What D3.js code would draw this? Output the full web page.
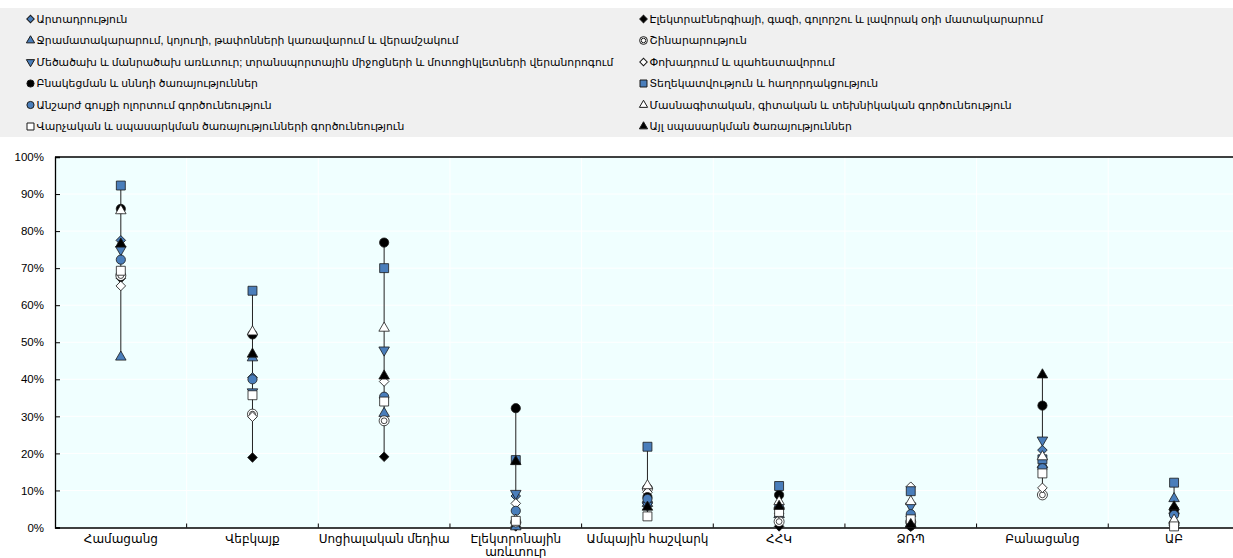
<!DOCTYPE html>
<html>
<head>
<meta charset="utf-8">
<script src="https://cdn.jsdelivr.net/npm/d3@7"></script>
<style>
  html, body { margin: 0; padding: 0; background: #fff; }
  svg { display: block; }
  text { font-family: "Liberation Sans", Arial, "DejaVu Sans", sans-serif; }
</style>
</head>
<body>
<svg id="chart" width="1233" height="558"></svg>
<script>
// ---- data ----
const categories = ["Համացանց", "Վեբկայք", "Սոցիալական մեդիա", "Էլեկտրոնային առևտուր", "Ամպային հաշվարկ", "ՀՀԿ", "ՁՌՊ", "Բանացանց", "ԱԲ"];

const seriesNames = [
  "Արտադրություն",
  "Ջրամատակարարում, կոյուղի, թափոնների կառավարում և վերամշակում",
  "Մեծածախ և մանրածախ առևտուր; տրանսպորտային միջոցների և մոտոցիկլետների վերանորոգում",
  "Բնակեցման և սննդի ծառայություններ",
  "Անշարժ գույքի ոլորտում գործունեություն",
  "Վարչական և սպասարկման ծառայությունների գործունեություն",
  "Էլեկտրաէներգիայի, գազի, գոլորշու և լավորակ օդի մատակարարում",
  "Շինարարություն",
  "Փոխադրում և պահեստավորում",
  "Տեղեկատվություն և հաղորդակցություն",
  "Մասնագիտական, գիտական և տեխնիկական գործունեություն",
  "Այլ սպասարկման ծառայություններ"
];

// values (%) per category, in the order of `categories`
const manufacturing   = [77.5, 40.5, 35.0,  8.5,  7.0,  5.0,  3.0, 20.9,  4.0];
const waterSupply     = [46.0, 45.8, 30.8,  0.2,  6.5,  3.5,  1.0, 17.0,  7.8];
const wholesale       = [75.0, 36.6, 47.9,  9.2,  6.0,  4.5,  5.8, 23.6,  3.0];
const accommodation   = [86.0, 52.1, 76.9, 32.2,  8.2,  8.8,  0.5, 32.9,  4.8];
const realEstate      = [72.3, 40.0, 35.3,  4.5,  7.7,  5.5,  3.6, 16.0,  3.4];
const administrative  = [69.3, 35.7, 34.0,  1.8,  3.0,  4.2,  2.2, 14.6,  0.3];
const electricity     = [67.3, 18.9, 19.1,  0.3,  6.5,  0.3,  0.2,  9.0,  0.5];
const construction    = [68.0, 30.6, 28.8,  1.5, 10.5,  1.6,  1.5,  8.8,  1.0];
const transportation  = [65.2, 29.9, 39.4,  6.5,  9.5,  3.8, 11.0, 10.7,  1.5];
const information     = [92.3, 63.9, 70.0, 18.2, 21.8, 11.2,  9.8, 18.4, 12.1];
const professional    = [85.5, 52.8, 53.8,  2.0, 11.3,  7.0,  7.0, 19.1,  2.0];
const otherServices   = [76.5, 46.8, 40.9, 17.8,  5.5,  5.7,  0.8, 41.2,  5.6];

const yTicks = [0, 10, 20, 30, 40, 50, 60, 70, 80, 90, 100];

// ---- series styling ----
const BLUE = "#4a7ebb";
const seriesValues = [manufacturing, waterSupply, wholesale, accommodation, realEstate, administrative,
                      electricity, construction, transportation, information, professional, otherServices];
const seriesStyle = [
  {shape: "diamond", fill: BLUE},
  {shape: "triUp", fill: BLUE},
  {shape: "triDown", fill: BLUE},
  {shape: "circle", fill: "#000"},
  {shape: "circle", fill: BLUE},
  {shape: "square", fill: "#fff"},
  {shape: "diamond", fill: "#000"},
  {shape: "ring", fill: "#fff"},
  {shape: "diamond", fill: "#fff"},
  {shape: "square", fill: BLUE},
  {shape: "triUp", fill: "#fff"},
  {shape: "triUp", fill: "#000"}
];
// draw order (row-major legend order)
const drawOrder = [0, 6, 1, 7, 2, 8, 3, 9, 4, 10, 5, 11];

const svg = d3.select("#chart");
const W = 1233, H = 558;
const margin = {left: 55, top: 157, bottom: 527.5};
const plotRight = 1239.9;

const x = d3.scaleBand().domain(categories).range([margin.left, plotRight]).paddingInner(0).paddingOuter(0);
const y = d3.scaleLinear().domain([0, 100]).range([margin.bottom, margin.top]);

// ---- legend ----
const legend = svg.append("g");
legend.append("rect").attr("x", 0).attr("y", 8).attr("width", W).attr("height", 129).attr("fill", "#f0f0f0");

function drawSymbol(g, style, cx, cy, scale, sw) {
  const s = scale;
  const stroke = "#1a1a1a";
  sw = sw || 0.8;
  if (style.shape === "circle") {
    g.append("circle").attr("cx", cx).attr("cy", cy).attr("r", 4.6 * s)
      .attr("fill", style.fill).attr("stroke", stroke).attr("stroke-width", sw);
  } else if (style.shape === "ring") {
    g.append("circle").attr("cx", cx).attr("cy", cy).attr("r", 5 * s)
      .attr("fill", "#fff").attr("stroke", stroke).attr("stroke-width", sw);
    g.append("circle").attr("cx", cx).attr("cy", cy).attr("r", 2.9 * s)
      .attr("fill", "#fff").attr("stroke", stroke).attr("stroke-width", sw);
  } else {
    let type, size, rot = 0;
    if (style.shape === "square") { type = d3.symbolSquare; size = 80; }
    else if (style.shape === "diamond") { type = d3.symbolSquare; size = 46; rot = 45; }
    else if (style.shape === "triUp") { type = d3.symbolTriangle; size = 48; }
    else if (style.shape === "triDown") { type = d3.symbolTriangle; size = 48; rot = 180; }
    g.append("path").attr("d", d3.symbol().type(type).size(size * s * s)())
      .attr("transform", `translate(${cx},${cy}) rotate(${rot})`)
      .attr("fill", style.fill).attr("stroke", stroke).attr("stroke-width", sw);
  }
}

const legendCols = [{sx: 30.5, tx: 36.5}, {sx: 643.5, tx: 649.5}];
const legendRows = [19, 40.5, 62, 83.5, 105, 126.5];
seriesNames.forEach((name, i) => {
  const col = legendCols[Math.floor(i / 6)];
  const cy = legendRows[i % 6];
  drawSymbol(legend, seriesStyle[i], col.sx, cy, 0.78, 1);
  legend.append("text").attr("x", col.tx).attr("y", cy + 3.8)
    .attr("font-size", 10.8).attr("fill", "#000").text(name);
});

// ---- plot background & grid ----
svg.append("rect").attr("x", margin.left).attr("y", margin.top)
  .attr("width", plotRight - margin.left).attr("height", margin.bottom - margin.top)
  .attr("fill", "#f0ffff");

svg.append("g").selectAll("line.hg").data(yTicks.slice(1, -1)).join("line")
  .attr("x1", margin.left).attr("x2", plotRight)
  .attr("y1", d => y(d)).attr("y2", d => y(d))
  .attr("stroke", "#fff").attr("stroke-width", 1);

svg.append("g").selectAll("line.vg").data(categories.slice(1)).join("line")
  .attr("x1", d => x(d)).attr("x2", d => x(d))
  .attr("y1", margin.top).attr("y2", margin.bottom)
  .attr("stroke", "#fff").attr("stroke-width", 1);

// ---- axes ----
const yAxis = svg.append("g").attr("transform", `translate(${margin.left},0)`)
  .call(d3.axisLeft(y).tickValues(yTicks).tickFormat(d => d + "%").tickSize(-5).tickPadding(11));
yAxis.select(".domain").attr("stroke", "#000").attr("stroke-width", 1.3);
yAxis.selectAll(".tick line").attr("stroke", "#000");
yAxis.selectAll(".tick text").attr("font-size", 11.5).attr("fill", "#000")
  .attr("font-family", "'Liberation Sans', Arial, sans-serif");

// top frame line
svg.append("line").attr("x1", margin.left).attr("x2", plotRight)
  .attr("y1", margin.top).attr("y2", margin.top).attr("stroke", "#000").attr("stroke-width", 1.3);

const xAxis = svg.append("g").attr("transform", `translate(0,${margin.bottom})`)
  .call(d3.axisBottom(x).tickSize(0).tickPadding(7));
xAxis.select(".domain").attr("stroke", "#000").attr("stroke-width", 1.6);
xAxis.selectAll(".tick text").attr("font-size", 12).attr("fill", "#000")
  .attr("font-family", "'Liberation Sans', Arial, sans-serif")
  .each(function(d) {
    const t = d3.select(this);
    const words = d.split(" ");
    if (d === "Էլեկտրոնային առևտուր") {
      t.text(null);
      t.append("tspan").attr("x", 0).attr("dy", "0.71em").text(words[0]);
      t.append("tspan").attr("x", 0).attr("dy", "1.1em").text(words[1]);
    }
  });
// boundary tick marks (inside, upward)
svg.append("g").selectAll("line.bt").data(categories.slice(1)).join("line")
  .attr("x1", d => x(d)).attr("x2", d => x(d))
  .attr("y1", margin.bottom).attr("y2", margin.bottom - 4)
  .attr("stroke", "#000").attr("stroke-width", 1);

// ---- range lines ----
const ranges = categories.map((c, ci) => {
  const vals = seriesValues.map(s => s[ci]);
  return {c, min: d3.min(vals), max: d3.max(vals)};
});
svg.append("g").selectAll("line.rng").data(ranges).join("line")
  .attr("x1", d => x(d.c) + x.bandwidth() / 2).attr("x2", d => x(d.c) + x.bandwidth() / 2)
  .attr("y1", d => y(d.min)).attr("y2", d => y(d.max))
  .attr("stroke", "#222").attr("stroke-width", 1);

// ---- markers ----
const markers = svg.append("g");
drawOrder.forEach(si => {
  const vals = seriesValues[si];
  categories.forEach((c, ci) => {
    drawSymbol(markers, seriesStyle[si], x(c) + x.bandwidth() / 2, y(vals[ci]), 1);
  });
});
</script>
</body>
</html>
